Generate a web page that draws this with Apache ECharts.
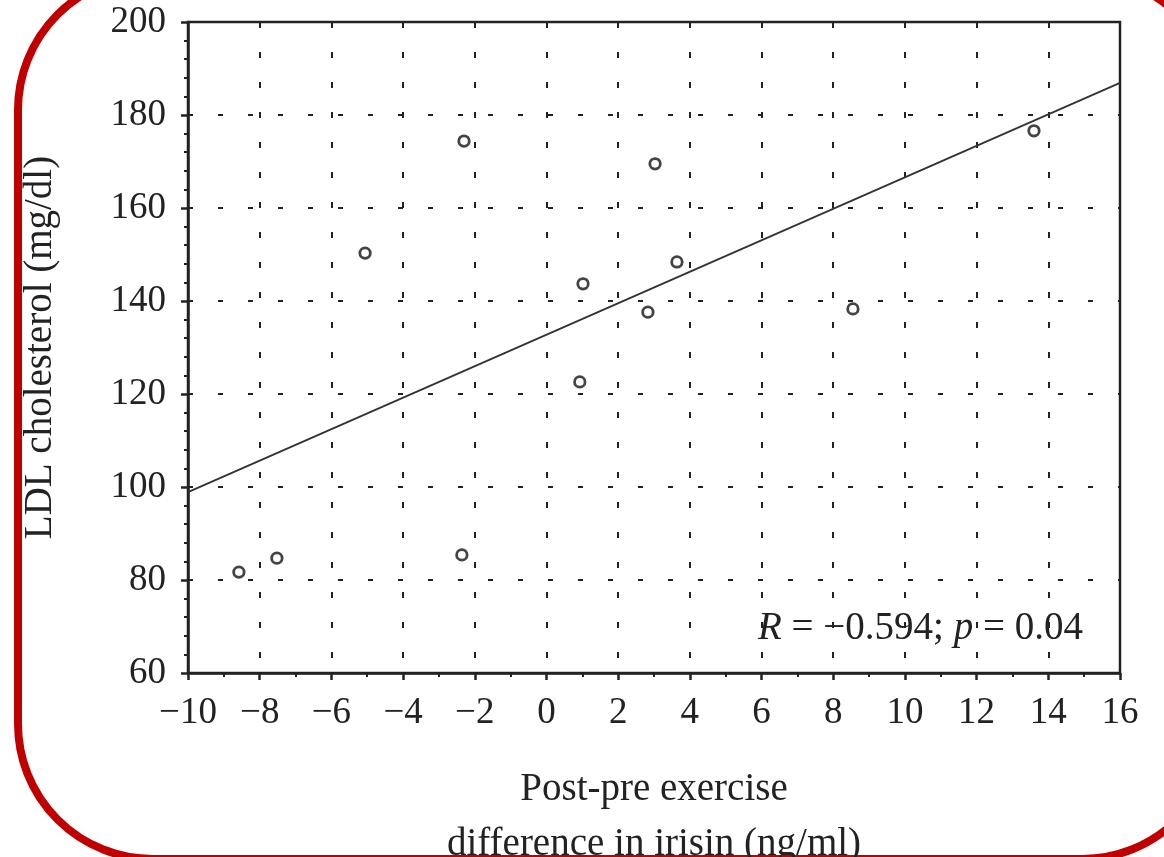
<!DOCTYPE html>
<html>
<head>
<meta charset="utf-8">
<style>html,body{margin:0;padding:0;background:#fff;}#chart{width:1164px;height:857px;}</style>
<script src="https://cdn.jsdelivr.net/npm/echarts@6/dist/echarts.min.js"></script>
</head>
<body>
<div id="chart"></div>
<script>
var irisinDiff = [-8.58, -7.52, -5.06, -2.30, -2.36, 1.02, 0.93, 3.03, 2.83, 3.64, 8.55, 13.6];
var ldlChol    = [81.7, 84.7, 150.3, 174.4, 85.4, 143.7, 122.6, 169.5, 137.6, 148.4, 138.3, 176.6];
var fitX = [-10, 16];
var fitY = [98.9, 186.9];
var xTitle = 'Post-pre exercise\ndifference in irisin (ng/ml)';
var yTitle = 'LDL cholesterol (mg/dl)';
var statsText = ['R', ' = −0.594; ', 'p', ' = 0.04'];

var pts = irisinDiff.map(function (x, i) { return [x, ldlChol[i]]; });
var fit = fitX.map(function (x, i) { return [x, fitY[i]]; });
var FONT = '"Liberation Serif", "DejaVu Serif", serif';
var INK = '#222';
var fmt = function (v) { return String(v).replace('-', '\u2212'); };

var chart = echarts.init(document.getElementById('chart'), null, {renderer: 'canvas'});
chart.setOption({
  animation: false,
  backgroundColor: '#fff',
  grid: {left: 188, right: 44, top: 22, bottom: 184, containLabel: false, outerBoundsMode: 'none',
         show: true, borderColor: INK, borderWidth: 2.5, backgroundColor: 'transparent'},
  xAxis: {
    type: 'value', min: -10, max: 16, interval: 2,
    name: xTitle, nameLocation: 'middle', nameGap: 89,
    nameTextStyle: {fontFamily: FONT, fontSize: 39, color: INK, lineHeight: 55, verticalAlign: 'top'},
    axisLine: {show: true, onZero: false, lineStyle: {color: INK, width: 2.5}},
    axisTick: {show: true, inside: false, length: 7, lineStyle: {color: INK, width: 2.5}},
    minorTick: {show: true, splitNumber: 2, length: 4, lineStyle: {color: INK, width: 2}},
    axisLabel: {fontFamily: FONT, fontSize: 37, color: INK, margin: 22, formatter: fmt},
    splitLine: {show: true, lineStyle: {color: INK, width: 2, type: [6, 24], dashOffset: 0}}
  },
  yAxis: {
    type: 'value', min: 60, max: 200, interval: 20,
    name: yTitle, nameLocation: 'middle', nameGap: 128, nameRotate: 90,
    nameTextStyle: {fontFamily: FONT, fontSize: 39, color: INK},
    axisLine: {show: true, onZero: false, lineStyle: {color: INK, width: 2.5}},
    axisTick: {show: true, inside: false, length: 7, lineStyle: {color: INK, width: 2.5}},
    minorTick: {show: true, splitNumber: 5, length: 4, lineStyle: {color: INK, width: 2}},
    axisLabel: {fontFamily: FONT, fontSize: 37, color: INK, margin: 22, formatter: fmt},
    splitLine: {show: true, lineStyle: {color: INK, width: 2, type: [5, 25], dashOffset: 0}}
  },
  series: [
    {
      type: 'line', data: fit, symbol: 'none', silent: true,
      lineStyle: {color: '#333', width: 1.8}, z: 3
    },
    {
      type: 'scatter', data: pts, symbol: 'circle', symbolSize: 10.5,
      itemStyle: {color: '#fff', borderColor: '#151515', borderWidth: 2.8}, z: 4
    }
  ],
  graphic: [
    {
      type: 'rect', silent: true, z: -1,
      shape: {x: 18, y: -25, width: 1199, height: 884, r: 135},
      style: {fill: 'none', stroke: '#c00000', lineWidth: 8}
    },
    {
      type: 'text', z: 50, left: 758, top: 609,
      style: {
        text: '{i|' + statsText[0] + '}{n|' + statsText[1] + '}{i|' + statsText[2] + '}{n|' + statsText[3] + '}',
        rich: {
          i: {fontFamily: FONT, fontSize: 39, fontStyle: 'italic', fill: INK},
          n: {fontFamily: FONT, fontSize: 39, fill: INK}
        }
      }
    }
  ]
});
</script>
</body>
</html>
